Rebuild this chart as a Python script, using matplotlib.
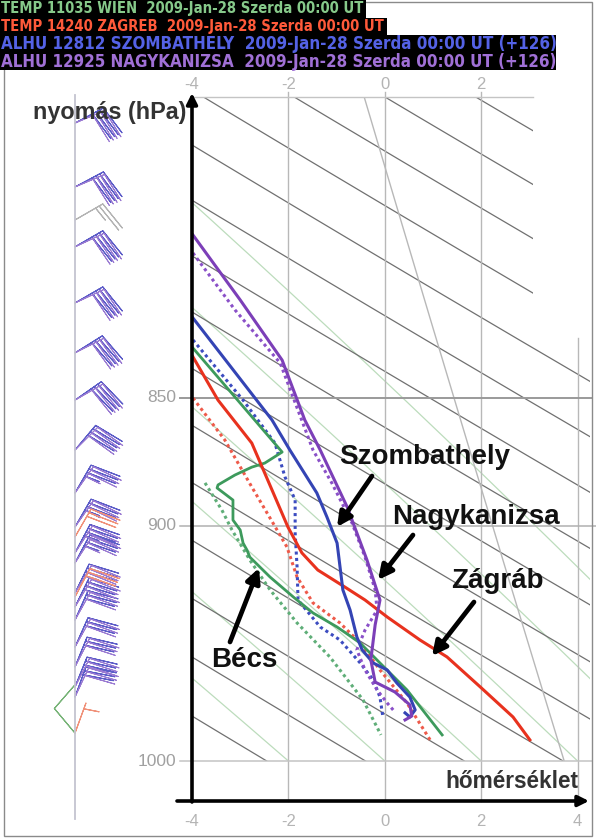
import numpy as np
import matplotlib
matplotlib.use("Agg")
import matplotlib.pyplot as plt
from matplotlib.patches import Polygon, Rectangle
from matplotlib import font_manager
from matplotlib.font_manager import FontProperties

W, H = 596, 839

# soundings, temperature (C) and pressure (hPa)
becs_T = [-3.98, -2.13, -2.49, -2.76, -3.11, -3.46, -3.48, -3.15, -3.15, -3.00, -2.94, -2.86, -2.80,
          -2.59, -2.38, -1.90, -1.49, -0.99, -0.51, -0.10, 0.46, 1.19]
becs_T_p = [831.3, 870.9, 875.2, 876.8, 879.9, 883.8, 885.0, 889.8, 897.8, 901.8, 907.1, 909.9, 912.8,
            916.9, 921.0, 929.2, 935.9, 941.8, 948.6, 957.1, 968.7, 988.4]
becs_Td = [-3.73, -3.38, -3.17, -2.80, -2.38, -1.82, -1.14, -0.45, -0.08]
becs_Td_p = [883.0, 893.8, 901.8, 914.0, 926.3, 940.1, 954.5, 973.1, 988.4]

zagreb_T = [-3.98, -3.46, -2.76, -2.34, -2.01, -1.72, -1.39, -0.83, -0.41, 0.05, 0.73, 1.29, 1.98, 2.66, 3.01]
zagreb_T_p = [834.6, 850.9, 867.4, 885.8, 900.6, 911.1, 918.1, 925.1, 930.5, 937.6, 947.3, 954.5, 967.4, 980.5, 990.6]
zagreb_Td = [-3.98, -3.32, -2.76, -2.32, -2.03, -1.82, -1.49, -0.93, -0.51, -0.10, 0.46, 0.94]
zagreb_Td_p = [850.1, 866.2, 884.6, 899.0, 908.7, 921.0, 931.7, 940.1, 948.6, 960.1, 974.4, 990.6]

szomb_T = [-3.98, -2.34, -1.97, -1.41, -1.20, -0.99, -0.87, -0.72, -0.58, -0.47, -0.24, 0.05, 0.25,
           0.52, 0.63, 0.52, 0.42]
szomb_T_p = [820.2, 858.5, 870.1, 887.0, 896.6, 907.1, 926.3, 934.7, 946.0, 951.5, 957.1, 960.1, 965.7,
             971.8, 977.4, 980.5, 978.7]
szomb_Td = [-3.98, -2.94, -2.28, -2.07, -1.86, -1.86, -1.82, -1.80, -1.34, -0.93, -0.51, -0.24, -0.10, -0.04]
szomb_Td_p = [828.3, 850.9, 867.4, 880.7, 889.8, 903.0, 916.9, 930.5, 941.8, 947.3, 957.1, 964.4, 971.8, 980.5]

nagyk_T = [-3.98, -3.00, -2.13, -1.66, -1.34, -0.78, -0.37, -0.10, -0.20, -0.29, -0.20, 0.21, 0.52, 0.56, 0.42]
nagyk_T_p = [790.3, 813.6, 835.8, 858.5, 870.1, 892.6, 914.0, 930.5, 940.9, 955.8, 965.3, 969.6, 975.2, 980.1, 981.8]
nagyk_Td = [-3.98, -3.11, -2.17, -1.49, -1.10, -0.68, -0.41, -0.20, -0.16, -0.41, -0.58, -0.41, -0.16, 0.05, 0.21]
nagyk_Td_p = [796.7, 817.2, 836.9, 870.1, 883.0, 899.0, 912.8, 926.3, 934.7, 943.1, 951.5, 960.1, 968.7, 974.4, 978.3]

# wind barbs: pressure, direction (deg), speed (kt)
alhu_wind_p = [751.7, 773.5, 794.5, 814.7, 833.1, 850.9, 870.1, 887.0, 900.6, 911.1, 915.2,
               927.6, 933.4, 938.9, 950.3, 958.8, 967.4, 971.8]
alhu_wind_dir = [62, 62, 60, 60, 58, 55, 40, 30, 30, 28, 28, 26, 26, 24, 24, 22, 22, 20]
alhu_wind_spd = [40, 40, 40, 40, 40, 40, 40, 35, 35, 35, 35, 35, 35, 30, 30, 30, 30, 30]
temp_wind_p = [785.0, 904.6, 929.2, 987.6, 987.6]
temp_wind_dir = [60, 30, 28, 320, 20]
temp_wind_spd = [25, 30, 30, 10, 5]
temp_wind_col = ['#b4b4b4', '#f09078', '#f09078', '#78b478', '#f09078']

header_lines = ["TEMP 11035 WIEN  2009-Jan-28 Szerda 00:00 UT",
                "TEMP 14240 ZAGREB  2009-Jan-28 Szerda 00:00 UT",
                "ALHU 12812 SZOMBATHELY  2009-Jan-28 Szerda 00:00 UT (+126)",
                "ALHU 12925 NAGYKANIZSA  2009-Jan-28 Szerda 00:00 UT (+126)"]
header_cols = ['#86c98a', '#ff5a3a', '#5462e6', '#a070d6']
header_ends = [366, 387, 556, 556]


def fx(x):
    return x / W


def fy(y):
    return 1 - y / H


fig = plt.figure(figsize=(W / 100, H / 100), dpi=100)
plt.rcParams['font.family'] = ['Liberation Sans', 'DejaVu Sans']

p_bot = 1000 * np.exp(40 / 2235)
p_top = 1000 * np.exp(-666 / 2235)
ax = fig.add_axes([fx(192), fy(801), (W - 192) / W, (801 - 95) / H])
ax.set_yscale('log')
ax.set_ylim(p_bot, p_top)
ax.set_xlim(-4, -4 + (W - 192) / 48.2)
ax.axis('off')

# area where the diagram lines are drawn
clip = Polygon([(-4, 743), (3.07, 743), (3.07, 826.5), (4.26, 826.5), (4.26, 1000), (-4, 1000)],
               closed=True, transform=ax.transData, facecolor='none', edgecolor='none')
ax.add_patch(clip)

pp = np.linspace(735, 1000, 200)

# moist adiabats (light green)
Rd, Lv, cp, eps = 287.0, 2.5e6, 1004.0, 0.622


def rsat(T, p):
    es = 6.112 * np.exp(17.67 * (T - 273.15) / (T - 29.65))
    return eps * es / (p - es)


for t0 in [-6, -4, -2, 0, 2, 4, 6, 8]:
    T = t0 + 273.15
    ts = [T]
    pr = pp[::-1]
    for i in range(1, len(pr)):
        r = rsat(T, pr[i - 1])
        dTdlnp = (Rd * T + Lv * r) / (cp + Lv ** 2 * r * eps / (Rd * T ** 2))
        T = T + dTdlnp * np.log(pr[i] / pr[i - 1])
        ts.append(T)
    ln, = ax.plot(np.array(ts) - 273.15, pr, color='#bcdcbc', lw=0.9)
    ln.set_clip_path(clip)

# dry adiabats
for k in range(-14, 6):
    th = 293.25 + 2.05 * k
    ln, = ax.plot(th * (pp / 1000) ** 0.2857 - 273.15, pp, color='#707070', lw=0.9)
    ln.set_clip_path(clip)

# 5 g/kg mixing ratio line
es = 0.005 * pp / (eps + 0.005)
tw = 243.5 * np.log(es / 6.112) / (17.67 - np.log(es / 6.112))
ln, = ax.plot(tw, pp, color='#b8b8b8', lw=1.0)
ln.set_clip_path(clip)

# grid
for t in [-2, 0, 2]:
    ax.plot([t, t], [p_bot, 741.3], color='#b8b8b8', lw=1.0, clip_on=False)
ax.plot([4, 4], [p_bot, 827.6], color='#b8b8b8', lw=1.0)
ax.plot([-4.25, 4.30], [850, 850], color='#9a9a9a', lw=1.4, clip_on=False)
ax.plot([-4.25, 4.38], [900, 900], color='#b0b0b0', lw=1.1, clip_on=False)
ax.plot([-4.25, 4.30], [1000, 1000], color='#c4c4c4', lw=1.1, clip_on=False)
ax.plot([-4, 3.07], [743, 743], color='#c4c4c4', lw=1.0)

# soundings
dot = (0, (1, 1.1))
ax.plot(becs_Td, becs_Td_p, color='#5fae78', lw=2.2, ls=dot)
ax.plot(zagreb_Td, zagreb_Td_p, color='#ee5a4a', lw=2.2, ls=dot)
ax.plot(szomb_Td, szomb_Td_p, color='#3c4cc0', lw=2.2, ls=dot)
ax.plot(nagyk_Td, nagyk_Td_p, color='#8a50c8', lw=2.2, ls=dot)
ax.plot(becs_T, becs_T_p, color='#3d9a5c', lw=2.0)
ax.plot(zagreb_T, zagreb_T_p, color='#e8321e', lw=2.2)
ax.plot(szomb_T, szomb_T_p, color='#3444b4', lw=2.2)
ax.plot(nagyk_T, nagyk_T_p, color='#7c3fb8', lw=2.2)

# tick labels
for p in [850, 900, 1000]:
    ax.text(-4.32, p, str(p), ha='right', va='center', fontsize=12.5, color='#a0a0a0', clip_on=False)
for t, s in zip([-4, -2, 0, 2, 4], ['-4', '-2', '0', '2', '4']):
    ax.text(t, 1000 * np.exp(61 / 2235), s, ha='center', va='center', fontsize=12, color='#b4b4b4',
            clip_on=False)
for t, s in zip([-4, -2, 0, 2], ['-4', '-2', '0', '2']):
    ax.text(t, 1000 * np.exp(-676 / 2235), s, ha='center', va='center', fontsize=12, color='#b4b4b4',
            clip_on=False)

# axis arrows
ax.annotate('', xy=(fx(192), fy(93)), xytext=(fx(192), fy(802)), xycoords='figure fraction',
            arrowprops=dict(arrowstyle='-|>', lw=2.6, color='black', mutation_scale=16, shrinkA=0, shrinkB=0))
ax.annotate('', xy=(fx(589), fy(801)), xytext=(fx(177), fy(801)), xycoords='figure fraction',
            arrowprops=dict(arrowstyle='-|>', lw=2.6, color='black', mutation_scale=16, shrinkA=0, shrinkB=0))
fig.text(fx(186), fy(113), 'nyomás (hPa)', ha='right', va='center', fontsize=16.8, fontweight='bold',
         color='#333333')
fig.text(fx(578), fy(781), 'hőmérséklet', ha='right', va='center', fontsize=16.3, fontweight='bold',
         color='#333333')

# station labels and arrows
labels = [('Szombathely', 425, 457, (372, 476), (337, 527)),
          ('Nagykanizsa', 476, 517, (413, 535), (378, 580)),
          ('Zágráb', 497, 581, (474, 602), (432, 656)),
          ('Bécs', 244, 660, (230, 642), (259, 568))]
for s, x, y, tail, tip in labels:
    fig.text(fx(x), fy(y), s, ha='center', va='center', fontsize=20, fontweight='bold', color='#111111')
    ax.annotate('', xy=(fx(tip[0]), fy(tip[1])), xytext=(fx(tail[0]), fy(tail[1])),
                xycoords='figure fraction',
                arrowprops=dict(arrowstyle='-|>', lw=3.4, color='black', mutation_scale=21,
                                shrinkA=0, shrinkB=0))

# wind panel
axw = fig.add_axes([fx(20), fy(801), 130 / W, (801 - 95) / H])
axw.set_yscale('log')
axw.set_ylim(p_bot, p_top)
axw.set_xlim(0, 1)
axw.axis('off')
xs = (75 - 20) / 130
axw.plot([xs, xs], [p_bot * 1.008, p_top], color='#c4c4d0', lw=1.3, clip_on=False)
bsz = dict(spacing=0.13, height=0.95, width=0.3)
blen = 6.8
d = np.radians(alhu_wind_dir)
s = np.array(alhu_wind_spd)
n = len(alhu_wind_p)
axw.barbs([xs] * n, alhu_wind_p, -s * np.sin(d), -s * np.cos(d), length=blen, sizes=bsz,
          color='#5c5cc8', linewidth=0.8)
d2 = np.radians(np.array(alhu_wind_dir) + 5)
axw.barbs([xs] * n, alhu_wind_p, -s * np.sin(d2), -s * np.cos(d2), length=blen, sizes=bsz,
          color='#9a7ad2', linewidth=0.7)
d3 = np.radians(temp_wind_dir)
s3 = np.array(temp_wind_spd)
axw.barbs([xs] * len(temp_wind_p), temp_wind_p, -s3 * np.sin(d3), -s3 * np.cos(d3), length=blen,
          sizes=bsz, color=temp_wind_col, linewidth=0.8)

# header: prefer a narrow face if one is installed
fonts = font_manager.fontManager.ttflist
narrow = [f for f in fonts if 'Narrow' in f.name or 'Condensed' in f.name
          or str(f.stretch) in ('condensed', 'semi-condensed', 'extra-condensed')]
narrow_bold = [f for f in narrow if f.weight in ('bold', 700)]
if narrow_bold:
    hprop = FontProperties(fname=narrow_bold[0].fname)
elif narrow:
    hprop = FontProperties(fname=narrow[0].fname)
else:
    hprop = FontProperties(family='Liberation Sans', weight='bold')

renderer = fig.canvas.get_renderer()
for i, (txt, c, xe) in enumerate(zip(header_lines, header_cols, header_ends)):
    y0 = i * 17.6
    fig.patches.append(Rectangle((0, fy(y0 + 17.6)), fx(xe), 17.6 / H, transform=fig.transFigure,
                                 facecolor='black', edgecolor='none', zorder=5))
    t = fig.text(fx(1), fy(y0 + 9), txt, ha='left', va='center', color=c, zorder=6,
                 fontproperties=hprop)
    t.set_fontsize(12)
    wpx = t.get_window_extent(renderer).width
    t.set_fontsize(min(13.5, 12 * (xe - 3) / wpx))

fig.patches.append(Rectangle((fx(4), fy(836)), 588 / W, 834 / H, transform=fig.transFigure,
                             facecolor='none', edgecolor='#8a8a8a', lw=1.0, zorder=1))

fig.savefig('out.png', dpi=100)
